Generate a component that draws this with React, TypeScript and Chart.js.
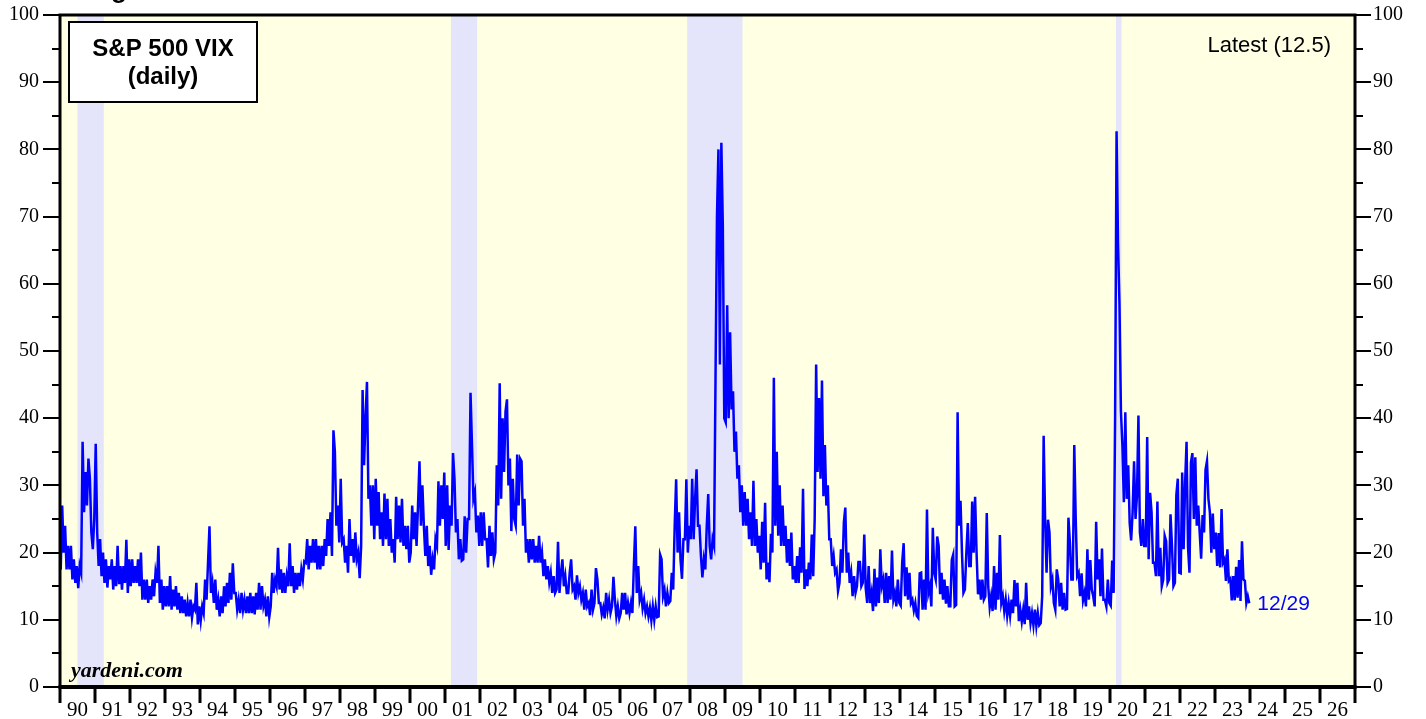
import React, { useEffect, useRef } from "react";
import { Chart, registerables } from "chart.js";

Chart.register(...registerables);

// Semi-monthly readings of the daily VIX (24 per year, alternating the half-month swings)
const VIX_1990 = [17.5, 27, 20, 24, 17.5, 21, 17.5, 21, 16, 19, 15.5, 18, 14.7, 18, 17, 36.5, 26, 32, 27, 34, 31, 23, 20.5, 25];
const VIX_1991 = [36.2, 23, 18, 22, 16.5, 20, 15.5, 19, 14.8, 18, 16, 19, 14.5, 18, 15, 21, 15.3, 18, 14.5, 18, 15.5, 21.9, 14, 19];
const VIX_1992 = [15, 19, 15.5, 18, 15.5, 19, 15, 20, 13, 16, 13, 16, 12.5, 15, 13, 16, 13.5, 17, 15.5, 21, 12.5, 16, 11.5, 15];
const VIX_1993 = [12, 15, 12, 16.5, 11.5, 14.5, 12, 15, 11.5, 14, 11, 13.5, 11, 13, 10.5, 12.5, 10.5, 13, 10.3, 12, 11.5, 15.5, 9.3, 12];
const VIX_1994 = [9.9, 12, 11, 16, 13, 18.5, 23.9, 14, 15.5, 12.5, 16, 11.5, 13, 10.5, 13.5, 11, 15, 12, 15.5, 12.5, 17, 13, 18.4, 14];
const VIX_1995 = [14, 11.5, 13, 11, 14, 11.5, 13, 11, 13.5, 11, 14, 11, 13.5, 10.8, 14, 11.5, 15.5, 11.5, 15, 12, 13, 10.5, 13.5, 10.4];
const VIX_1996 = [12, 17, 14, 16, 15, 20.7, 14.5, 17.5, 14, 17, 14, 16.5, 15, 21.4, 15, 18, 14, 17, 14.5, 17, 15, 17.5, 16, 18.7];
const VIX_1997 = [18.5, 22, 17.5, 21, 18.5, 22, 18.5, 22, 17.5, 21, 17.5, 21, 18, 22, 19.5, 25, 21, 26, 19.5, 38.2, 35, 24, 27, 21.5];
const VIX_1998 = [31, 21.5, 22, 18.5, 21, 17, 25, 19.5, 22, 18.5, 23, 19, 20, 16.2, 21, 44.2, 33, 40, 45.4, 28, 30, 24, 30, 22];
const VIX_1999 = [31, 24, 29, 22, 26, 21, 28.8, 22, 28, 21, 25, 20, 22, 18.5, 28.3, 22, 27, 21.5, 28, 21, 24, 20.5, 24, 18.5];
const VIX_2000 = [20, 27, 22, 26, 21, 27, 33.6, 24, 30, 24, 19.5, 24, 18, 21, 16.7, 19, 17.5, 22, 21, 30.6, 24, 30, 25, 31.9];
const VIX_2001 = [21, 30, 20.4, 27, 24, 34.8, 31, 23, 25, 19, 22, 18.8, 19, 25.4, 20, 25, 25, 43.8, 36, 28, 29, 23, 25.5, 21];
const VIX_2002 = [26, 21, 26, 22, 22, 17.8, 24, 19.5, 23, 19, 20, 33, 27, 45.2, 28, 40, 32, 41, 42.8, 30, 34, 23.2, 31, 25];
const VIX_2003 = [24, 34.6, 27, 34, 33.6, 24, 28, 20, 22, 18.5, 22, 19, 22, 18.5, 21, 18.5, 22.5, 18.5, 20, 16.5, 19, 16, 18, 15.6];
const VIX_2004 = [17, 14, 16.5, 14, 14.5, 21.6, 14, 17, 19, 15, 16.5, 14, 14, 17, 19, 14.5, 15, 13, 16.6, 14, 15, 13, 14, 11.5];
const VIX_2005 = [14.5, 12, 12.5, 10.7, 14.5, 11.5, 12.5, 17.7, 16, 12.5, 12.5, 10.8, 11.8, 10.2, 14, 11.5, 13, 11, 12, 16.4, 13, 10.5, 12, 10.2];
const VIX_2006 = [11, 14, 11.5, 14, 10.8, 12.5, 11, 12.5, 11, 18, 23.9, 14, 18, 13, 14, 11.7, 13, 11, 12, 10.5, 11.8, 9.9, 12, 10];
const VIX_2007 = [12, 10.4, 10.5, 19.7, 19, 13.5, 14.5, 12, 14, 12.5, 12.8, 17, 14.5, 24, 30.9, 20, 26, 19, 16.1, 22, 22, 30.9, 20, 24];
const VIX_2008 = [22, 31, 22, 28, 32.4, 24, 24, 19.5, 16.3, 19, 17.5, 24, 28.7, 21, 19, 22, 21, 46, 70, 80, 48, 81, 68.7, 40];
const VIX_2009 = [39.4, 56.8, 40, 52.8, 41.3, 44, 35, 38, 31, 33, 26, 30, 24, 29, 24, 28, 22, 26, 21, 30.7, 21, 25, 20, 22.5];
const VIX_2010 = [17.5, 24.6, 18.5, 27.4, 16, 18.5, 15.6, 22.8, 20, 46, 24, 35, 22.5, 30, 21, 27, 21, 24, 18.5, 22, 18, 23, 16, 18];
const VIX_2011 = [15.5, 19.5, 15.5, 20.8, 17, 29.5, 14.6, 17.5, 15, 18.5, 16, 22.7, 16.5, 25, 48, 32, 43, 31, 45.6, 28.4, 36, 27, 30, 22];
const VIX_2012 = [22, 18, 19.5, 17, 17.5, 14.3, 15.5, 20.5, 17, 24.5, 26.7, 17, 20, 15.5, 17, 13.5, 16.5, 14, 15, 18.6, 18.6, 15, 15.5, 22.7];
const VIX_2013 = [14.7, 12.5, 18, 12.5, 14, 11.3, 17.6, 12, 16.3, 12.5, 20.5, 15, 16, 12.5, 17, 12.5, 16.5, 13, 20.3, 13, 14, 12, 16, 12.5];
const VIX_2014 = [12.1, 18.5, 21.4, 13.5, 17.8, 13, 17, 12.5, 13, 11.4, 12.5, 10.6, 10.3, 16.9, 17, 11.5, 16, 11.5, 26.4, 14, 15, 12, 23.7, 17];
const VIX_2015 = [16, 22.4, 21, 13.8, 17, 13, 16, 12.4, 15, 12, 12, 18.9, 19.7, 12, 12.2, 40.9, 24, 27.7, 20, 14, 14.5, 20, 24.4, 18];
const VIX_2016 = [18, 27.6, 20, 28.3, 20, 13.8, 16, 13, 16, 13, 13.5, 25.9, 15, 11.9, 13.5, 11.3, 18, 11.5, 17, 13, 22.6, 12.5, 13.5, 11.3];
const VIX_2017 = [13, 10.6, 12.5, 10.6, 13, 11, 15.9, 12, 15.5, 9.8, 11.5, 9.75, 11.5, 9.36, 15.5, 10, 12, 9.5, 11, 9.2, 11.5, 9.1, 11, 9.2];
const VIX_2018 = [9.5, 13.5, 37.4, 25, 17, 24.9, 23, 15, 16, 12.5, 11.5, 17.5, 16, 12, 15.5, 11.5, 14, 11.5, 11.6, 25.2, 21.5, 16, 16, 36];
const VIX_2019 = [25, 16.5, 17, 13.5, 16.9, 12.9, 14, 12, 20.5, 13, 18.9, 14.5, 13.5, 12, 24.6, 16, 19, 13.5, 20.6, 13, 13, 12, 16, 12.5];
const VIX_2020 = [12.1, 18.8, 14, 40.3, 82.7, 66, 57, 41, 36, 27.5, 40.9, 28, 33, 24.4, 21.8, 26, 33.6, 25, 28.5, 40.4, 23, 21, 25, 21];
const VIX_2021 = [21, 37.2, 19, 28.9, 26, 18.5, 18.5, 16.5, 27.6, 16.5, 20.7, 15, 16, 22.5, 21.7, 15.5, 16, 25.7, 21, 15, 15.5, 28.6, 31, 17];
const VIX_2022 = [16.9, 31.9, 20.5, 30.3, 36.5, 20.8, 17, 33.4, 34.8, 25, 34.2, 24, 27, 23, 19.1, 25.6, 23, 32.3, 33.6, 28, 26, 20, 25.8, 20.5];
const VIX_2023 = [23, 18, 22.9, 17.8, 26.5, 18.5, 19, 15.8, 20.5, 15.8, 16.1, 12.9, 16.5, 12.9, 17.9, 13.3, 18.9, 12.8, 21.7, 16, 15.8, 12.5, 13.5, 12.45];

const DATA_YEARS = [
  1990, 1991, 1992, 1993, 1994, 1995, 1996, 1997, 1998, 1999, 2000, 2001,
  2002, 2003, 2004, 2005, 2006, 2007, 2008, 2009, 2010, 2011, 2012, 2013,
  2014, 2015, 2016, 2017, 2018, 2019, 2020, 2021, 2022, 2023,
];
const VIX_BY_YEAR = [
  VIX_1990, VIX_1991, VIX_1992, VIX_1993, VIX_1994, VIX_1995, VIX_1996, VIX_1997,
  VIX_1998, VIX_1999, VIX_2000, VIX_2001, VIX_2002, VIX_2003, VIX_2004, VIX_2005,
  VIX_2006, VIX_2007, VIX_2008, VIX_2009, VIX_2010, VIX_2011, VIX_2012, VIX_2013,
  VIX_2014, VIX_2015, VIX_2016, VIX_2017, VIX_2018, VIX_2019, VIX_2020, VIX_2021,
  VIX_2022, VIX_2023,
];

const X_LABELS = [
  "90", "91", "92", "93", "94", "95", "96", "97", "98", "99", "00", "01", "02",
  "03", "04", "05", "06", "07", "08", "09", "10", "11", "12", "13", "14", "15",
  "16", "17", "18", "19", "20", "21", "22", "23", "24", "25", "26",
];
const X_MIN = 1990;
const X_MAX = 2027;
const Y_TICKS = [0, 10, 20, 30, 40, 50, 60, 70, 80, 90, 100];
const Y_MINOR_TICKS = [5, 15, 25, 35, 45, 55, 65, 75, 85, 95];
const RECESSIONS = [
  [1990.5, 1991.25],
  [2001.17, 2001.92],
  [2007.92, 2009.5],
  [2020.17, 2020.33],
];
const LATEST_VALUE = 12.5;
const LATEST_DATE = "12/29";
const TITLE_LINES = ["S&P 500 VIX", "(daily)"];

const PLOT_BG = "rgb(255,255,228)";
const BAND_BG = "rgb(228,228,250)";
const LINE_COLOR = "#0000ff";

const POINTS = DATA_YEARS.flatMap((yr, k) =>
  VIX_BY_YEAR[k].map((v, i) => ({ x: yr + (i + 0.5) / 24, y: v }))
);

const decorPlugin = {
  id: "decor",
  beforeDraw(chart: any) {
    const { ctx, chartArea: a, scales } = chart;
    const x = scales.x;
    ctx.save();
    ctx.fillStyle = PLOT_BG;
    ctx.fillRect(a.left, a.top, a.right - a.left, a.bottom - a.top);
    ctx.fillStyle = BAND_BG;
    RECESSIONS.forEach(([s, e]) => {
      const x0 = x.getPixelForValue(s);
      const x1 = x.getPixelForValue(e);
      ctx.fillRect(x0, a.top, x1 - x0, a.bottom - a.top);
    });
    ctx.restore();
  },
  afterDatasetsDraw(chart: any) {
    const { ctx, chartArea: a, scales } = chart;
    const x = scales.x;
    const y = scales.y;
    ctx.save();

    // frame
    ctx.strokeStyle = "#000";
    ctx.lineWidth = 3;
    ctx.beginPath();
    ctx.moveTo(a.left, a.bottom);
    ctx.lineTo(a.left, a.top);
    ctx.lineTo(a.right, a.top);
    ctx.lineTo(a.right, a.bottom);
    ctx.stroke();
    ctx.lineWidth = 4;
    ctx.beginPath();
    ctx.moveTo(a.left - 1.5, a.bottom);
    ctx.lineTo(a.right + 1.5, a.bottom);
    ctx.stroke();

    // y tick marks
    ctx.lineWidth = 2;
    const drawY = (v: number, lenL: number, lenR: number) => {
      const py = Math.round(y.getPixelForValue(v));
      ctx.beginPath();
      ctx.moveTo(a.left - lenL, py);
      ctx.lineTo(a.left, py);
      ctx.moveTo(a.right, py);
      ctx.lineTo(a.right + lenR, py);
      ctx.stroke();
    };
    Y_TICKS.forEach((v) => drawY(v, 17, 16));
    Y_MINOR_TICKS.forEach((v) => drawY(v, 8, 8));

    // x tick marks (year boundaries)
    ctx.lineWidth = 3;
    for (let yr = X_MIN; yr <= X_MAX; yr++) {
      const px = Math.round(x.getPixelForValue(yr));
      ctx.beginPath();
      ctx.moveTo(px, a.bottom);
      ctx.lineTo(px, a.bottom + 16);
      ctx.stroke();
    }

    // title box
    ctx.fillStyle = "#fff";
    ctx.fillRect(69, 22, 188, 80);
    ctx.lineWidth = 2;
    ctx.strokeRect(69, 22, 188, 80);
    ctx.fillStyle = "#000";
    ctx.font = "bold 24px 'Liberation Sans', Arial, sans-serif";
    ctx.textAlign = "center";
    ctx.textBaseline = "middle";
    ctx.fillText(TITLE_LINES[0], 163, 49);
    ctx.fillText(TITLE_LINES[1], 163, 77);

    // latest
    ctx.font = "22px 'Liberation Sans', Arial, sans-serif";
    ctx.textAlign = "right";
    ctx.fillText(`Latest (${LATEST_VALUE})`, a.right - 24, 46);

    // last date label next to last point
    const last = POINTS[POINTS.length - 1];
    ctx.fillStyle = LINE_COLOR;
    ctx.font = "21px 'Liberation Sans', Arial, sans-serif";
    ctx.textAlign = "left";
    ctx.fillText(LATEST_DATE, x.getPixelForValue(last.x) + 8, y.getPixelForValue(last.y) + 1);

    // source
    ctx.fillStyle = "#000";
    ctx.font = "italic bold 22px 'Liberation Serif', 'Times New Roman', serif";
    ctx.textAlign = "left";
    ctx.textBaseline = "alphabetic";
    ctx.fillText("yardeni.com", 71, 677);

    // clipped header fragment at very top
    ctx.font = "bold 26px 'Liberation Sans', Arial, sans-serif";
    ctx.fillText("g", 111, -2);

    ctx.restore();
  },
};

export default function App() {
  const ref = useRef<HTMLCanvasElement | null>(null);

  useEffect(() => {
    if (!ref.current) return;
    const tickFont = { family: "'Liberation Serif', 'Times New Roman', serif", size: 20 };
    const chart = new Chart(ref.current, {
      type: "line",
      data: {
        datasets: [
          {
            data: POINTS,
            borderColor: LINE_COLOR,
            borderWidth: 2.5,
            pointRadius: 0,
            tension: 0,
            fill: false,
          },
        ],
      },
      options: {
        responsive: false,
        animation: false,
        parsing: false,
        normalized: true,
        layout: { padding: { top: 15, left: 0, right: 0, bottom: 0 } },
        plugins: {
          legend: { display: false },
          tooltip: { enabled: false },
          title: { display: false },
        },
        scales: {
          x: {
            type: "linear",
            position: "bottom",
            min: X_MIN,
            max: X_MAX,
            afterBuildTicks: (s: any) => {
              s.ticks = X_LABELS.map((_, i) => ({ value: X_MIN + i + 0.5 }));
            },
            afterFit: (s: any) => {
              s.height = 32;
              s.paddingLeft = 0;
              s.paddingRight = 0;
            },
            ticks: {
              autoSkip: false,
              maxRotation: 0,
              minRotation: 0,
              padding: 11,
              color: "#000",
              font: { family: "'Liberation Serif', 'Times New Roman', serif", size: 21 },
              callback: (v: any) => X_LABELS[Math.floor(Number(v)) - X_MIN],
            },
            grid: { display: false, drawTicks: false },
            border: { display: false },
          },
          y: {
            type: "linear",
            position: "left",
            min: 0,
            max: 100,
            afterFit: (s: any) => {
              s.width = 60;
              s.paddingTop = 0;
              s.paddingBottom = 0;
            },
            afterBuildTicks: (s: any) => {
              s.ticks = Y_TICKS.map((v) => ({ value: v }));
            },
            ticks: { padding: 21, color: "#000", font: tickFont },
            grid: { display: false, drawTicks: false },
            border: { display: false },
          },
          y2: {
            type: "linear",
            position: "right",
            min: 0,
            max: 100,
            afterFit: (s: any) => {
              s.width = 71;
              s.paddingTop = 0;
              s.paddingBottom = 0;
            },
            afterBuildTicks: (s: any) => {
              s.ticks = Y_TICKS.map((v) => ({ value: v }));
            },
            ticks: { padding: 18, color: "#000", font: tickFont },
            grid: { display: false, drawTicks: false },
            border: { display: false },
          },
        },
      },
      plugins: [decorPlugin],
    } as any);
    return () => chart.destroy();
  }, []);

  return (
    <div style={{ position: "absolute", left: 0, top: 0, width: 1426, height: 719, background: "#fff" }}>
      <canvas ref={ref} width={1426} height={719} style={{ display: "block" }} />
    </div>
  );
}
